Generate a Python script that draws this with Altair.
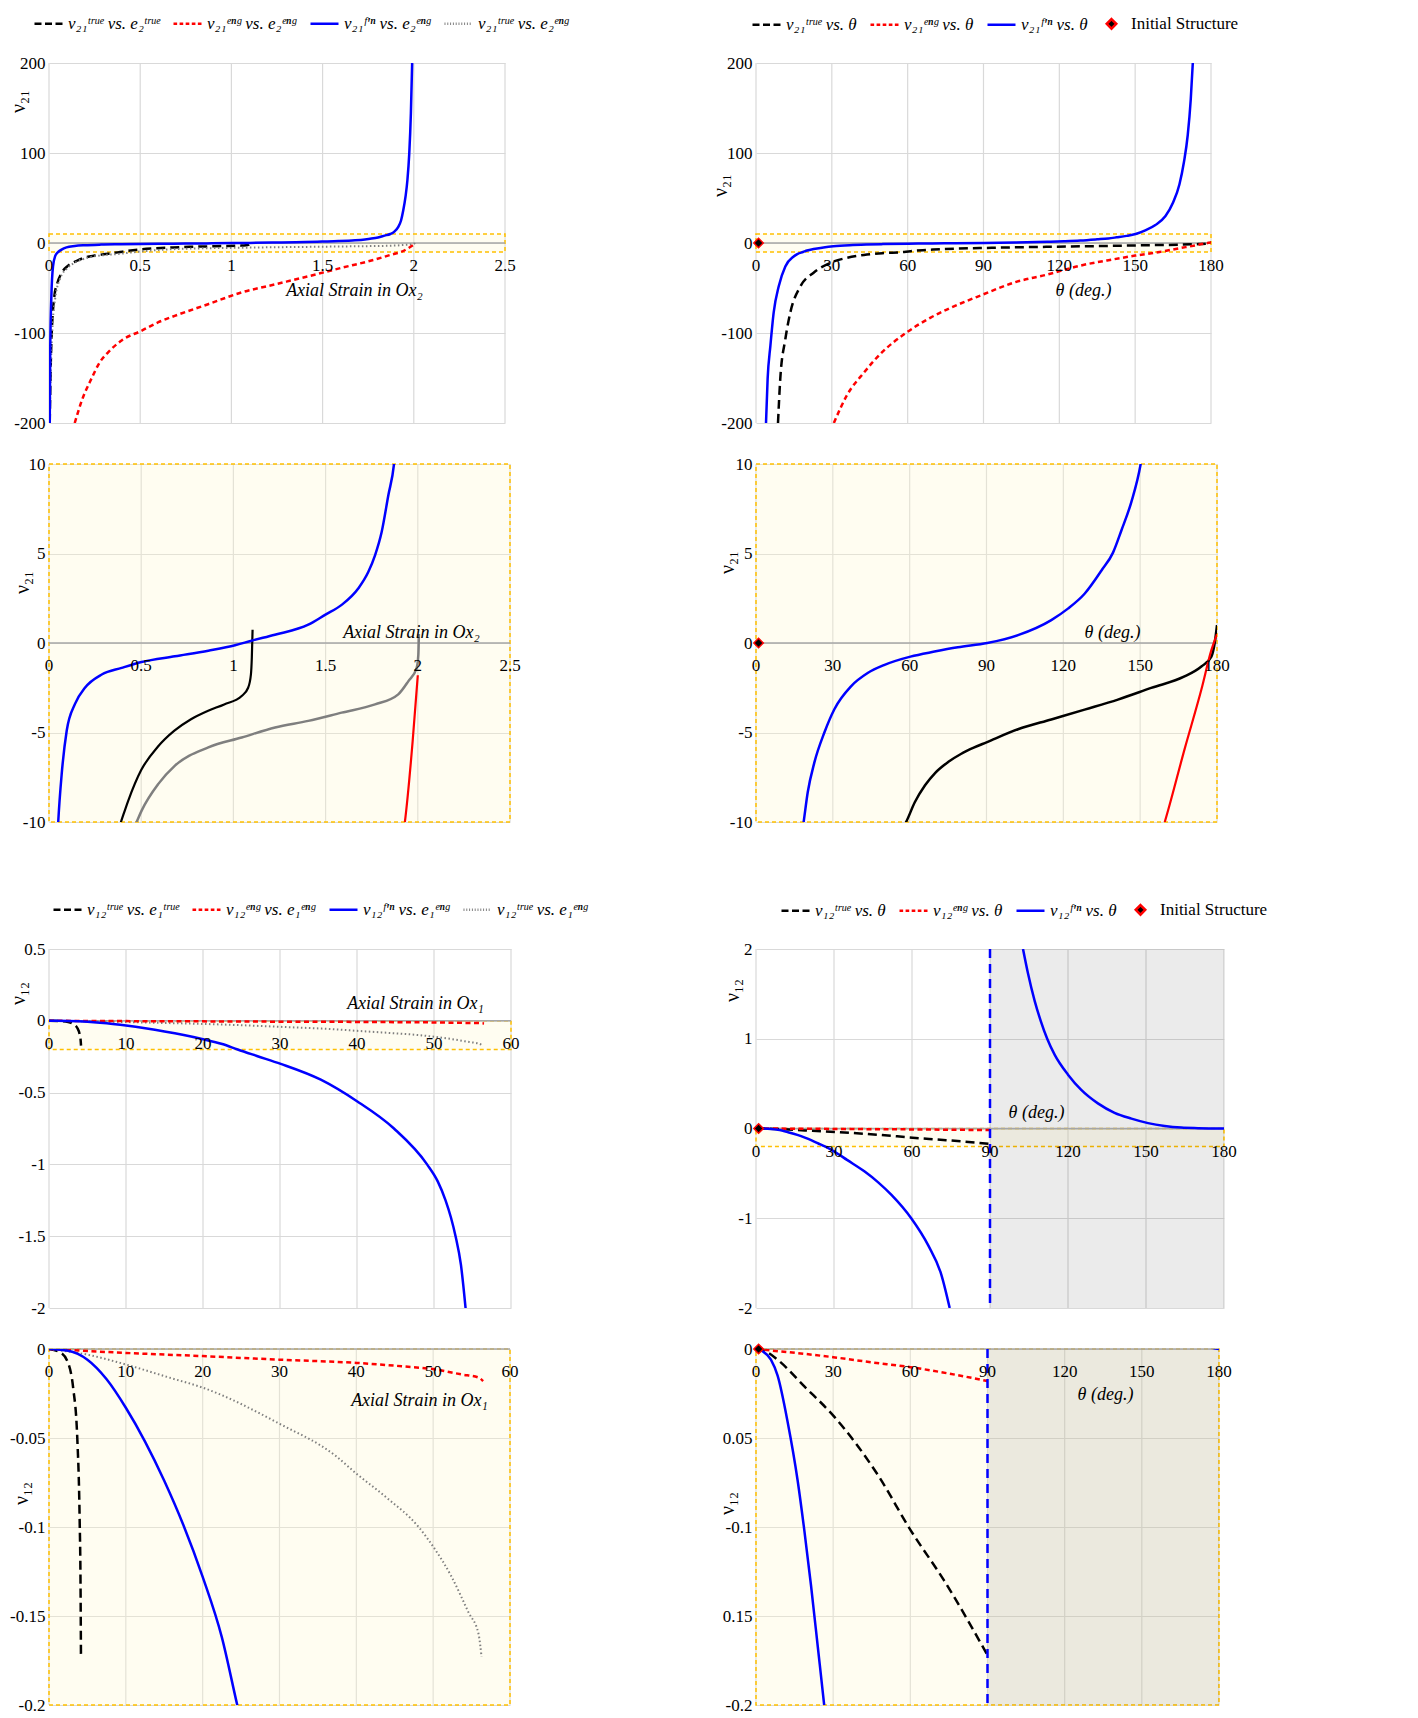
import altair as alt
import pandas as pd

FONT = "Liberation Serif"
GRID = "#D9D9D9"
ORANGE = "#FFC000"
CREAM = "#FFFAD0"
BLUE = "#0000FF"
RED = "#FF0000"
GRAY = "#7F7F7F"
ZERO = "#A6A6A6"

# ---------------- data: nu21 vs axial strain in Ox2 ----------------
e2_fn = [0.004, 0.007, 0.013, 0.022, 0.035, 0.045, 0.05, 0.069, 0.096, 0.141, 0.195, 0.286, 0.394,
         0.502, 0.683, 0.864, 1.009, 1.099, 1.225, 1.406, 1.497, 1.587, 1.678, 1.732, 1.768, 1.804,
         1.84, 1.871, 1.895, 1.915, 1.93, 1.942, 1.955, 1.965, 1.975, 1.984, 1.991]
nu21_fn_e = [-200, -114, -59, -26, -14, -11, -10, -7.3, -4.9, -3.4, -2.5, -1.76, -1.39,
             -1.06, -0.74, -0.43, -0.13, 0.13, 0.46, 1.02, 1.57, 2.13, 3.06, 3.98, 4.9, 6.2,
             8.24, 10, 13, 18, 25, 36, 52, 70, 99, 144, 200]
e2_tt = [0.004, 0.008, 0.013, 0.02, 0.03, 0.045, 0.07, 0.1, 0.15, 0.2, 0.25, 0.3, 0.35, 0.39, 0.43,
         0.5, 0.59, 0.68, 0.77, 0.86, 0.95, 1.045, 1.08, 1.095, 1.1, 1.104]
nu21_tt = [-200, -150, -110, -80, -58, -45, -33, -26, -20, -16, -14, -12.5, -11.2, -10, -8.8,
           -7.1, -5.8, -4.9, -4.26, -3.8, -3.43, -2.96, -2.5, -1.76, -0.8, 0.74]
e2_te = [0.004, 0.01, 0.02, 0.035, 0.06, 0.1, 0.15, 0.2, 0.3, 0.4, 0.44, 0.475, 0.503, 0.593, 0.683,
         0.864, 1.045, 1.226, 1.406, 1.587, 1.768, 1.894, 1.949, 1.994, 2.003, 2.006]
nu21_te = [-200, -140, -90, -60, -40, -28, -21, -17, -13.5, -11.8, -10.8, -10, -9.35, -7.87, -6.85,
           -5.83, -5.28, -4.72, -4.35, -3.89, -3.43, -2.87, -2.13, -1.39, -0.65, 0.5]
e2_ee = [0.141, 0.18, 0.232, 0.28, 0.324, 0.4, 0.506, 0.6, 0.689, 0.872, 1.055, 1.238, 1.421,
         1.604, 1.787, 1.878, 1.93, 1.972, 2.0]
nu21_ee = [-200, -175, -151, -132, -121.5, -108, -97.6, -88, -81, -68, -55, -46, -37,
           -27.6, -18.4, -12.9, -10, -5.5, -1.8]

# ---------------- data: nu21 vs theta ----------------
th21_fn = [3.96, 4.6, 5.7, 7, 9, 11.6, 14.9, 16.5, 18.6, 20.2, 22.8, 26.7, 30.6, 37.1, 43.6, 50.2,
           60.3, 69.7, 78.8, 90.3, 102.3, 115.3, 121.8, 128.3, 134.9, 139.4, 142.7, 146.6, 150.2,
           154, 158, 162, 165, 167.5, 169.3, 170.8, 172, 172.8]
nu21_fn_t = [-200, -151, -114, -77, -48, -26, -15, -12, -10, -8.34, -6.67, -5.0, -3.7, -2.42, -1.68,
             -1.22, -0.76, -0.48, -0.24, 0, 0.44, 1.28, 1.92, 2.75, 4.05, 5.05, 6.3, 7.9, 10,
             14, 20, 30, 45, 65, 90, 120, 160, 200]
th21_true = [8.7, 9.6, 11.6, 13.6, 17.6, 22.8, 29.4, 36, 42.7, 50, 58.6, 62, 66, 70, 75, 80, 85, 90,
             102.3, 115.3, 128.3, 141.3, 154.3, 167.3, 173.9, 177.8, 179.1, 180]
nu21_true_t = [-200, -151, -107, -77, -48, -33, -22, -16.5, -13.3, -11.3, -10, -8.9, -7.95, -7.25,
               -6.65, -6.2, -5.85, -5.55, -4.82, -4.27, -3.72, -3.16, -2.51, -1.87, -1.31, -0.76, 0,
               1.0]
th21_eng = [30.8, 36, 42.7, 49.3, 59.6, 69.1, 75.7, 90, 102, 115.3, 128.5, 141.7, 150, 159.6, 167.4,
            173.9, 177.8, 180]
nu21_eng_t = [-200, -169, -144, -123, -99.4, -82.9, -73.7, -57, -44, -35, -25, -18, -14, -10, -5.9,
              -2.6, -0.4, 0.5]

# ---------------- data: nu12 vs axial strain in Ox1 ----------------
e1_fn = [0, 2.5, 5, 7.5, 10, 12.5, 15, 17.5, 20, 22.5, 24.5, 27, 30.1, 35.3, 40, 44.8, 49.1,
         50.5, 51.5, 52.2, 52.8, 53.5, 54.1]
nu12_fn_e = [0, -0.001, -0.006, -0.017, -0.033, -0.052, -0.074, -0.099, -0.128, -0.162, -0.2, -0.245,
             -0.3, -0.41, -0.56, -0.75, -1.0, -1.12, -1.25, -1.37, -1.5, -1.7, -2.0]
e1_tt = [0, 1.5, 2.5, 3.15, 3.68, 3.99, 4.1, 4.16]
nu12_tt = [0, -0.002, -0.008, -0.022, -0.05, -0.096, -0.13, -0.173]
e1_ee = [0, 10, 20, 30, 40, 45.9, 50.3, 53.7, 55.9, 56.5]
nu12_ee = [0, -0.0022, -0.004, -0.006, -0.0078, -0.0097, -0.0115, -0.0143, -0.016, -0.018]
e1_te = [0, 4.8, 10, 15.6, 20, 30, 37.3, 40, 43.8, 48.1, 50, 52.4, 54.6, 55.9, 56.3]
nu12_te = [0, -0.003, -0.0087, -0.016, -0.0217, -0.042, -0.06, -0.07, -0.083, -0.1, -0.111, -0.128,
           -0.148, -0.16, -0.173]

# ---------------- data: nu12 vs theta ----------------
th12_fn_a = [0, 2.6, 5.8, 8.4, 12.3, 16.2, 18.8, 21.4, 24, 26.5, 30.3, 35, 41.8, 47, 52.1, 59.7,
             66.2, 71.3, 74.5]
nu12_fn_a = [0, -0.0013, -0.006, -0.015, -0.041, -0.074, -0.102, -0.133, -0.167, -0.2, -0.26, -0.35,
             -0.48, -0.6, -0.74, -1.0, -1.3, -1.63, -2.0]
th12_fn_b = [102.7, 104.6, 107.2, 109.5, 112, 114.9, 120, 125.1, 131.5, 137.9, 144.4, 150.8, 157.2,
             163.6, 170, 180]
nu12_fn_b = [2.0, 1.73, 1.42, 1.2, 1.0, 0.82, 0.6, 0.43, 0.28, 0.175, 0.11, 0.06, 0.028, 0.01, 0.004,
             0.0]
th12_true = [0, 4, 8.4, 18.8, 30.4, 47.3, 60.2, 73.1, 90]
nu12_true_t = [0, -0.0015, -0.006, -0.021, -0.038, -0.0706, -0.102, -0.13, -0.172]
th12_eng = [0, 30, 45, 60, 75, 90]
nu12_eng_t = [0, -0.0046, -0.0075, -0.0102, -0.0138, -0.018]

init_theta = [1]
init_nu = [0]

# ---------------- ticks ----------------
e2_ticks = [0, 0.5, 1, 1.5, 2, 2.5]
e2_tick_text = ["0", "0.5", "1", "1.5", "2", "2.5"]
th_ticks = [0, 30, 60, 90, 120, 150, 180]
th_tick_text = ["0", "30", "60", "90", "120", "150", "180"]
e1_ticks = [0, 10, 20, 30, 40, 50, 60]
e1_tick_text = ["0", "10", "20", "30", "40", "50", "60"]

# ---------------- legends ----------------
L_TL = ["ν₂₁ᵗʳᵘᵉ vs. e₂ᵗʳᵘᵉ", "ν₂₁ᵉⁿᵍ vs. e₂ᵉⁿᵍ", "ν₂₁ᶠ'ⁿ vs. e₂ᵉⁿᵍ", "ν₂₁ᵗʳᵘᵉ vs. e₂ᵉⁿᵍ"]
L_TR = ["ν₂₁ᵗʳᵘᵉ vs. θ", "ν₂₁ᵉⁿᵍ vs. θ", "ν₂₁ᶠ'ⁿ vs. θ", "Initial Structure"]
L_BL = ["ν₁₂ᵗʳᵘᵉ vs. e₁ᵗʳᵘᵉ", "ν₁₂ᵉⁿᵍ vs. e₁ᵉⁿᵍ", "ν₁₂ᶠ'ⁿ vs. e₁ᵉⁿᵍ", "ν₁₂ᵗʳᵘᵉ vs. e₁ᵉⁿᵍ"]
L_BR = ["ν₁₂ᵗʳᵘᵉ vs. θ", "ν₁₂ᵉⁿᵍ vs. θ", "ν₁₂ᶠ'ⁿ vs. θ", "Initial Structure"]

P_DASH = "M-1,0H-0.5M-0.25,0H0.25M0.5,0H1"
P_SHORT = "M-1,0H-0.74M-0.565,0H-0.305M-0.13,0H0.13M0.305,0H0.565M0.74,0H1"
P_SOLID = "M-1,0H1"
P_DOT = ("M-1,0H-0.93M-0.8,0H-0.73M-0.6,0H-0.53M-0.4,0H-0.33M-0.2,0H-0.13M0,0H0.07"
         "M0.2,0H0.27M0.4,0H0.47M0.6,0H0.67M0.8,0H0.87")
P_DIAM = "M0,-0.34L0.34,0L0,0.34L-0.34,0Z"

MINUS_FIX = "replace(datum.label, '\u2212', '-')"


def make_panel(w, h, xdom, ydom, xgrid, xticks, xtext, ygrid, curves, band, ytitle, ytpos,
               xtitle, xtpos, legend=None, diamond=False, shade=None, vline=None, ylabel_expr=None):
    xs = alt.Scale(domain=xdom, nice=False, zero=False)
    ys = alt.Scale(domain=ydom, nice=False, zero=False)
    xax = alt.Axis(values=xgrid, grid=False, labels=False, ticks=False, domain=False, zindex=1,
                   title=xtitle, titleX=xtpos[0], titleY=xtpos[1] - h, titleFont=FONT,
                   titleFontSize=18, titleFontStyle="italic", titleFontWeight="normal",
                   titleColor="black", titleAlign="center", titleBaseline="middle")
    yax = alt.Axis(values=ygrid, grid=True, gridColor=GRID, gridWidth=1.2, ticks=False, domain=False,
                   format="~f", labelFont=FONT, labelFontSize=17, labelColor="black", labelPadding=4,
                   labelExpr=ylabel_expr if ylabel_expr else MINUS_FIX,
                   title=ytitle, titleX=ytpos[0], titleY=ytpos[1], titleFont=FONT, titleFontSize=20,
                   titleFontWeight="normal", titleColor="black", titleAlign="center",
                   titleBaseline="middle")
    X = alt.X("x:Q", scale=xs, axis=xax)
    Y = alt.Y("y:Q", scale=ys, axis=yax)
    layers = []
    # vertical grid lines at the x tick values
    layers.append(alt.Chart(pd.DataFrame({"x": xgrid})).mark_rule(color=GRID, strokeWidth=1.2)
                  .encode(x=X))
    bdf = pd.DataFrame({"x": [band[0][0]], "x2": [band[0][1]], "y": [band[1][0]], "y2": [band[1][1]]})
    layers.append(alt.Chart(bdf).mark_rect(fill=CREAM, fillOpacity=0.3, stroke=ORANGE, strokeWidth=1.5,
                                           strokeDash=[4, 3]).encode(x=X, x2="x2:Q", y=Y, y2="y2:Q"))
    if shade:
        sdf = pd.DataFrame({"x": [shade[0]], "x2": [shade[1]], "y": [ydom[0]], "y2": [ydom[1]]})
        layers.append(alt.Chart(sdf).mark_rect(fill="black", fillOpacity=0.08)
                      .encode(x=X, x2="x2:Q", y=Y, y2="y2:Q"))
    layers.append(alt.Chart(pd.DataFrame({"y": [0]})).mark_rule(color=ZERO, strokeWidth=1.5).encode(y=Y))
    for (xv, yv, color, dash, sw) in curves:
        df = pd.DataFrame({"x": xv, "y": yv})
        mk = dict(color=color, strokeWidth=sw, clip=True, interpolate="monotone")
        if dash:
            mk["strokeDash"] = dash
        layers.append(alt.Chart(df).mark_line(**mk).encode(x=X, y=Y))
    if vline is not None:
        layers.append(alt.Chart(pd.DataFrame({"x": [vline]})).mark_rule(
            color=BLUE, strokeWidth=2.5, strokeDash=[9, 6]).encode(x=X))
    if diamond:
        layers.append(alt.Chart(pd.DataFrame({"x": init_theta, "y": init_nu})).mark_point(
            shape="diamond", filled=True, fill="black", stroke=RED, strokeWidth=1.5, size=90,
            opacity=1).encode(x=X, y=Y))
    tdf = pd.DataFrame({"x": xticks, "y": [0] * len(xticks), "t": xtext})
    layers.append(alt.Chart(tdf).mark_text(font=FONT, fontSize=17, color="black", baseline="middle",
                                           dy=23).encode(x=X, y=Y, text="t:N"))
    if legend:
        labels, paths, fills, strokes, lx, ly = legend
        L = alt.Legend(orient="none", legendX=lx, legendY=ly, direction="horizontal", columns=4,
                       title=None, labelFont=FONT, labelFontSize=17,
                       labelFontStyle={"expr": "datum.label == 'Initial Structure' ? 'normal' : 'italic'"},
                       labelColor="black", labelLimit=400, labelOffset=4, symbolSize=784,
                       symbolStrokeWidth=2.5, columnPadding=8, padding=0)
        ldf = pd.DataFrame({"s": labels})
        layers.append(alt.Chart(ldf).transform_filter("false").mark_point(filled=True, opacity=1).encode(
            shape=alt.Shape("s:N", scale=alt.Scale(domain=labels, range=paths), legend=L),
            fill=alt.Fill("s:N", scale=alt.Scale(domain=labels, range=fills), legend=L),
            stroke=alt.Stroke("s:N", scale=alt.Scale(domain=labels, range=strokes), legend=L)))
    return alt.layer(*layers).properties(width=w, height=h)


TL = make_panel(
    456, 360, [0, 2.5], [-200, 200], e2_ticks, e2_ticks, e2_tick_text, [-200, -100, 0, 100, 200],
    [(e2_tt, nu21_tt, "black", [9, 5], 2.5), (e2_te, nu21_te, GRAY, [1.5, 2.5], 2),
     (e2_ee, nu21_ee, RED, [5, 3.5], 2.5), (e2_fn, nu21_fn_e, BLUE, None, 2.5)],
    ([0, 2.5], [-10, 10]), "ν₂₁", (-31, 38), "Axial Strain  in Ox₂", (305, 227),
    legend=(L_TL, [P_DASH, P_SHORT, P_SOLID, P_DOT], ["transparent"] * 4,
            ["black", RED, BLUE, GRAY], -16, -55))

TR = make_panel(
    455, 360, [0, 180], [-200, 200], th_ticks, th_ticks, th_tick_text, [-200, -100, 0, 100, 200],
    [(th21_true, nu21_true_t, "black", [9, 5], 2.5), (th21_eng, nu21_eng_t, RED, [5, 3.5], 2.5),
     (th21_fn, nu21_fn_t, BLUE, None, 2.5)],
    ([0, 180], [-10, 10]), "ν₂₁", (-36, 122), "θ (deg.)", (327, 227),
    legend=(L_TR, [P_DASH, P_SHORT, P_SOLID, P_DIAM], ["transparent"] * 3 + ["black"],
            ["black", RED, BLUE, RED], -5, -55), diamond=True)

ML = make_panel(
    461, 358, [0, 2.5], [-10, 10], e2_ticks, e2_ticks, e2_tick_text, [-10, -5, 0, 5, 10],
    [(e2_tt, nu21_tt, "black", None, 2.2), (e2_te, nu21_te, GRAY, None, 2.5),
     (e2_ee, nu21_ee, RED, None, 2.2), (e2_fn, nu21_fn_e, BLUE, None, 2.5)],
    ([0, 2.5], [-10, 10]), "ν₂₁", (-27, 118), "Axial Strain in Ox₂", (362, 168))

MR = make_panel(
    461, 358, [0, 180], [-10, 10], th_ticks, th_ticks, th_tick_text, [-10, -5, 0, 5, 10],
    [(th21_true, nu21_true_t, "black", None, 2.5), (th21_eng, nu21_eng_t, RED, None, 2.2),
     (th21_fn, nu21_fn_t, BLUE, None, 2.5)],
    ([0, 180], [-10, 10]), "ν₂₁", (-29, 98), "θ (deg.)", (356, 168), diamond=True)

BL1 = make_panel(
    462, 359, [0, 60], [-2, 0.5], e1_ticks, e1_ticks, e1_tick_text, [-2, -1.5, -1, -0.5, 0, 0.5],
    [(e1_tt, nu12_tt, "black", [9, 5], 2.5), (e1_te, nu12_te, GRAY, [1.5, 2.5], 2),
     (e1_ee, nu12_ee, RED, [5, 3.5], 2.5), (e1_fn, nu12_fn_e, BLUE, None, 2.5)],
    ([0, 60], [-0.2, 0]), "ν₁₂", (-31, 44), "Axial Strain in Ox₁", (366, 54),
    legend=(L_BL, [P_DASH, P_SHORT, P_SOLID, P_DOT], ["transparent"] * 4,
            ["black", RED, BLUE, GRAY], 3, -55))

BR1 = make_panel(
    468, 359, [0, 180], [-2, 2], th_ticks, th_ticks, th_tick_text, [-2, -1, 0, 1, 2],
    [(th12_true, nu12_true_t, "black", [9, 5], 2.5), (th12_eng, nu12_eng_t, RED, [5, 3.5], 2.5),
     (th12_fn_a, nu12_fn_a, BLUE, None, 2.5), (th12_fn_b, nu12_fn_b, BLUE, None, 2.5)],
    ([0, 180], [-0.2, 0]), "ν₁₂", (-24, 41), "θ (deg.)", (280, 163),
    legend=(L_BR, [P_DASH, P_SHORT, P_SOLID, P_DIAM], ["transparent"] * 3 + ["black"],
            ["black", RED, BLUE, RED], 24, -55), diamond=True, shade=(90, 180), vline=90)

BL2 = make_panel(
    461, 356, [0, 60], [-0.2, 0], e1_ticks, e1_ticks, e1_tick_text, [-0.2, -0.15, -0.1, -0.05, 0],
    [(e1_tt, nu12_tt, "black", [9, 5], 2.5), (e1_te, nu12_te, GRAY, [1.5, 2.5], 2),
     (e1_ee, nu12_ee, RED, [5, 3.5], 2.5), (e1_fn, nu12_fn_e, BLUE, None, 2.5)],
    ([0, 60], [-0.2, 0]), "ν₁₂", (-28, 144), "Axial Strain in Ox₁", (370, 51))

BR2 = make_panel(
    463, 356, [0, 180], [-0.2, 0], th_ticks, th_ticks, th_tick_text, [-0.2, -0.15, -0.1, -0.05, 0],
    [(th12_true, nu12_true_t, "black", [9, 5], 2.5), (th12_eng, nu12_eng_t, RED, [5, 3.5], 2.5),
     (th12_fn_a, nu12_fn_a, BLUE, None, 2.5), (th12_fn_b, nu12_fn_b, BLUE, None, 2.5)],
    ([0, 180], [-0.2, 0]), "ν₁₂", (-29, 154), "θ (deg.)", (349, 45),
    diamond=True, shade=(90, 180), vline=90,
    ylabel_expr="datum.value == -0.05 ? '0.05' : datum.value == -0.15 ? '0.15' : " + MINUS_FIX)

spacer_l = alt.Chart(pd.DataFrame({"a": [0]})).mark_point(opacity=0).properties(width=462, height=45)
spacer_r = alt.Chart(pd.DataFrame({"a": [0]})).mark_point(opacity=0).properties(width=468, height=45)

chart = alt.concat(
    TL, TR, ML, MR, spacer_l, spacer_r, BL1, BR1, BL2, BR2,
    columns=2, spacing={"row": 41, "column": 245}, bounds="flush", align="each"
).resolve_scale(
    shape="independent", fill="independent", stroke="independent"
).configure_view(strokeWidth=0).properties(padding=0)

chart.save("out.html", embed_options={"renderer": "svg", "actions": False})
